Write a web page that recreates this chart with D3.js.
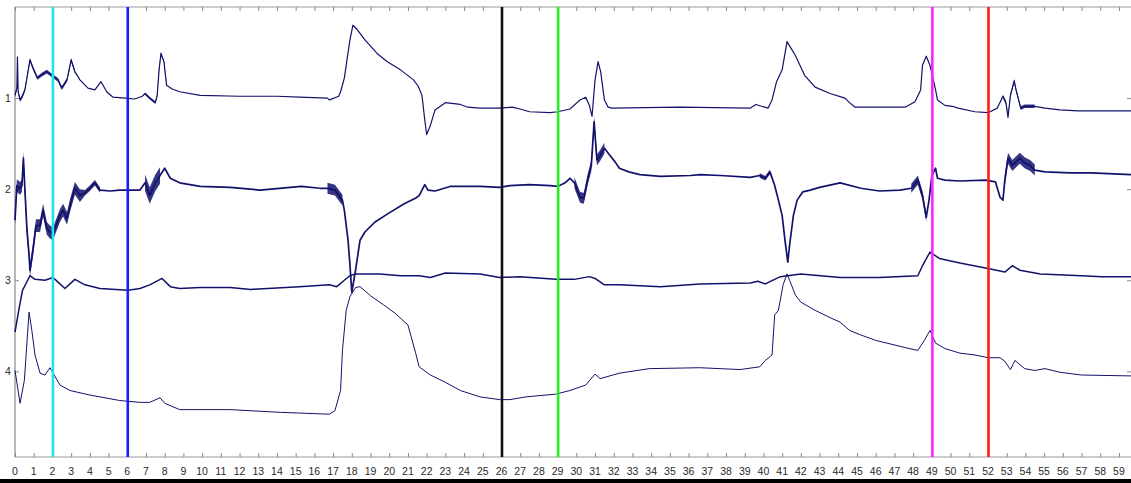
<!doctype html>
<html lang="en">
<head>
<meta charset="utf-8">
<title>Four channel recording</title>
<script src="https://d3js.org/d3.v7.min.js"></script>
<style>
  body { margin: 0; background: #fff; }
  text { font-family: "Liberation Sans", Arial, sans-serif; }
</style>
</head>
<body>
<div id="chart"></div>
<script>
// channel 1
var time1 = [0,0.1,0.13,0.17,0.27,0.37,0.53,0.8,0.96,1.2,1.45,1.7,2.03,2.3,2.5,2.78,3.0,3.2,3.47,3.9,4.27,4.6,4.9,5.24,5.9,6.4,6.8,6.95,7.2,7.5,7.6,7.7,7.8,7.96,8.1,8.4,8.8,9.9,12,14,15.2,16.7,16.8,17.3,17.4,17.6,17.9,18.06,18.3,18.7,19.35,19.9,20.6,21.3,21.55,21.75,21.9,22.0,22.2,22.45,23.0,23.8,24.2,24.85,25.9,26.56,27.0,27.5,28.6,29.0,29.66,30.2,30.5,30.7,30.84,31.0,31.16,31.3,31.5,31.7,31.9,35.5,39.3,39.6,39.9,40.25,40.46,40.7,41.0,41.26,41.7,42.2,42.76,43.56,44.36,44.6,44.9,46.2,47.57,48.1,48.4,48.5,48.7,48.9,49.2,49.3,49.7,50.1,50.4,51.3,52.0,52.5,52.8,52.96,53.07,53.2,53.4,53.5,53.75,53.96,54.5,55.05,55.85,56.8,59.7];
var ch1 = [0.97,0.89,0.55,0.93,1.02,0.99,0.91,0.58,0.67,0.78,0.74,0.71,0.76,0.80,0.89,0.80,0.58,0.71,0.80,0.89,0.91,0.82,0.93,0.99,1.0,1.01,0.98,0.95,1.0,1.05,0.97,0.69,0.51,0.60,0.86,0.90,0.93,0.97,0.98,0.98,0.99,1.0,1.02,0.98,0.93,0.78,0.36,0.20,0.25,0.36,0.51,0.60,0.69,0.80,0.87,0.97,1.24,1.40,1.30,1.13,1.05,1.07,1.10,1.11,1.11,1.10,1.12,1.15,1.16,1.15,1.12,1.02,0.99,1.08,1.20,0.80,0.60,0.71,1.02,1.10,1.11,1.10,1.11,1.07,1.09,1.11,1.02,0.82,0.69,0.38,0.53,0.75,0.88,0.95,1.0,1.05,1.10,1.10,1.10,1.04,0.91,0.64,0.54,0.64,0.91,1.02,1.08,1.09,1.11,1.15,1.16,1.11,0.98,1.05,1.21,0.97,0.81,0.91,1.11,1.09,1.09,1.11,1.13,1.14,1.14];

// channel 2
var time2 = [0,0.1,0.27,0.37,0.45,0.53,0.64,0.75,0.8,0.96,1.12,1.34,1.5,1.7,1.87,2.03,2.14,2.4,2.57,2.78,2.94,3.2,3.47,3.74,4.0,4.27,4.54,5.08,5.6,6.04,6.68,6.95,7.2,7.5,7.75,8.0,8.3,8.8,9.9,11.5,13.1,15.3,16.3,16.7,17.1,17.5,17.6,17.8,17.9,18.0,18.2,18.44,18.7,19.24,20.0,20.8,21.4,21.6,21.9,22.07,22.45,23.25,24.85,25.9,26.45,27.5,28.6,29.0,29.4,29.66,29.9,30.2,30.4,30.6,30.8,30.95,31.1,31.27,31.5,31.8,32.07,32.3,32.8,33.4,34.5,36.1,36.6,37.7,39.3,39.8,40.1,40.35,40.6,40.8,41.0,41.15,41.3,41.4,41.6,41.8,42.1,42.5,43.0,44.1,45.2,46.2,47.3,47.9,48.25,48.5,48.7,48.85,49.0,49.2,49.3,49.7,50.5,51.85,52.4,52.65,52.8,52.9,53.07,53.3,53.7,53.96,54.25,54.5,55.05,56.4,57.5,59.7];
var ch2 = [2.34,1.96,1.99,1.96,1.66,2.01,2.45,2.72,2.89,2.67,2.40,2.40,2.23,2.43,2.47,2.49,2.43,2.29,2.23,2.32,2.18,1.99,2.07,2.04,1.99,1.93,2.01,2.02,2.01,2.01,2.01,1.93,2.07,1.93,1.85,1.77,1.88,1.93,1.97,1.98,2.01,1.97,1.99,1.99,2.01,2.12,2.23,2.56,2.83,3.13,2.89,2.56,2.47,2.36,2.26,2.16,2.10,2.07,1.95,2.01,2.02,1.97,1.97,1.98,1.96,1.95,1.96,1.97,1.93,1.88,1.93,2.09,2.10,1.90,1.74,1.26,1.68,1.63,1.55,1.63,1.70,1.77,1.81,1.84,1.86,1.85,1.84,1.85,1.87,1.85,1.88,1.81,1.96,2.12,2.29,2.56,2.80,2.61,2.29,2.12,2.03,2.01,1.98,1.93,1.99,2.02,2.01,1.99,1.90,2.07,2.31,2.12,1.85,1.77,1.88,1.90,1.91,1.90,1.92,2.09,2.12,1.90,1.66,1.74,1.66,1.71,1.74,1.79,1.81,1.82,1.82,1.84];

// channel 3
var time3 = [0,0.2,0.4,0.8,1.07,1.6,2.03,2.3,2.67,3.2,3.74,4.54,6.04,6.68,7.2,7.86,8.3,8.8,9.9,11.5,12.6,15.2,16.8,17.2,17.6,17.9,18.2,19.5,20.6,21.6,22.2,23.0,24.85,25.9,27.0,28.9,29.9,30.7,31.0,31.5,32.3,34.5,36.6,39.3,39.7,40.1,40.9,42.0,44.1,46.2,48.25,48.5,48.9,49.4,50.5,52.0,52.9,53.3,53.7,54.8,57.0,58.1,59.7];
var ch3 = [3.57,3.33,3.11,2.95,2.99,3.0,2.97,3.02,3.09,2.99,3.05,3.09,3.11,3.09,3.05,2.98,3.07,3.09,3.08,3.08,3.10,3.07,3.05,3.07,3.0,2.95,2.93,2.93,2.95,2.95,2.97,2.92,2.93,2.97,2.96,2.99,2.99,2.96,2.98,3.05,3.05,3.07,3.04,3.03,3.01,3.04,2.96,2.93,2.97,2.97,2.95,2.84,2.69,2.76,2.81,2.87,2.91,2.84,2.89,2.93,2.95,2.96,2.96];

// channel 4
var time4 = [0,0.27,0.5,0.75,0.9,1.07,1.34,1.6,1.87,2.4,2.94,4.0,5.6,6.68,7.2,7.75,8.0,8.8,11.5,14.2,16.8,17.1,17.4,17.5,17.7,17.9,18.2,18.44,19.0,19.7,20.3,21.0,21.4,21.6,22.2,23.0,23.8,24.85,25.9,26.45,27.3,28.9,29.66,30.5,31.0,31.27,32.3,33.9,36.6,38.75,39.8,40.1,40.46,40.6,40.8,41.05,41.26,41.4,41.7,42.0,42.76,43.56,44.1,44.6,45.2,46.0,46.8,47.6,48.25,48.6,48.9,49.2,49.7,50.5,51.3,52.0,52.65,52.9,53.2,53.44,53.96,54.5,55.05,55.85,57.0,59.7];
var ch4 = [3.99,4.35,4.10,3.35,3.55,3.82,4.02,4.04,3.96,4.15,4.21,4.26,4.32,4.34,4.34,4.29,4.35,4.42,4.42,4.45,4.47,4.43,4.21,3.77,3.33,3.18,3.08,3.07,3.17,3.27,3.36,3.49,3.79,3.95,4.04,4.12,4.21,4.28,4.31,4.31,4.28,4.25,4.21,4.15,4.03,4.08,4.02,3.97,3.96,3.98,3.95,3.88,3.82,3.38,3.33,3.05,2.93,3.0,3.16,3.24,3.33,3.41,3.46,3.55,3.60,3.66,3.70,3.74,3.77,3.66,3.55,3.69,3.75,3.80,3.82,3.85,3.85,3.89,3.98,3.88,3.97,3.99,3.97,4.01,4.04,4.05];

// noisy stretches: [from, to, half-width of the band]
var noise1 = [[0, 3.3, 0.02], [6.9, 8.2, 0.015], [52.7, 54.6, 0.02]];
var noise2 = [[0, 3.6, 0.07], [3.6, 5.0, 0.03], [6.8, 7.9, 0.09], [16.7, 17.5, 0.06], [29.9, 31.6, 0.06], [39.6, 40.4, 0.025], [47.8, 48.8, 0.05], [52.9, 54.7, 0.06]];
var noise3 = [[21.3, 21.9, 0.04], [43.5, 44.5, 0.012], [53.0, 53.6, 0.015]];
var noise4 = [[3.5, 4.5, 0.015]];

var markers = [2, 6, 26, 29, 49, 52];
var markerColors = ["#19e6f0", "#1a1aff", "#111111", "#22ee22", "#ff22ff", "#ff1a1a"];

var xTicks = d3.range(0, 60);
var yTicks = [1, 2, 3, 4];

var width = 1131, height = 483;
var plotLeft = 15, plotRight = 1131.5, plotTop = 7, plotBottom = 457;

var x = d3.scaleLinear().domain([0, 59.67]).range([plotLeft, plotRight]);
var y = d3.scaleLinear().domain([0, 4.94]).range([plotTop, plotBottom]);

var svg = d3.select('#chart')
  .append('svg')
  .attr('width', width)
  .attr('height', height);

// frame and ticks
var axisColor = '#9a9a9a';
svg.append('line').attr('x1', plotLeft).attr('x2', plotRight).attr('y1', plotTop).attr('y2', plotTop)
  .attr('stroke', axisColor).attr('stroke-width', 1.2);
svg.append('line').attr('x1', plotLeft).attr('x2', plotRight).attr('y1', plotBottom).attr('y2', plotBottom)
  .attr('stroke', axisColor).attr('stroke-width', 1.2);
svg.append('line').attr('x1', plotLeft).attr('x2', plotLeft).attr('y1', plotTop).attr('y2', plotBottom)
  .attr('stroke', axisColor).attr('stroke-width', 1.4);

var xAxisTop = d3.axisBottom(x).tickValues(xTicks).tickSize(4).tickFormat('');
var xAxisBottom = d3.axisTop(x).tickValues(xTicks).tickSize(4).tickFormat('');
var yAxisLeft = d3.axisRight(y).tickValues(yTicks).tickSize(4).tickFormat('');
var yAxisRight = d3.axisLeft(y).tickValues(yTicks).tickSize(4).tickFormat('');

function styleAxis(g) {
  g.select('.domain').remove();
  g.selectAll('.tick line').attr('stroke', '#8a8a8a');
}
svg.append('g').attr('transform', 'translate(0,' + plotTop + ')').call(xAxisTop).call(styleAxis);
svg.append('g').attr('transform', 'translate(0,' + plotBottom + ')').call(xAxisBottom).call(styleAxis);
svg.append('g').attr('transform', 'translate(' + plotLeft + ',0)').call(yAxisLeft).call(styleAxis);
svg.append('g').attr('transform', 'translate(' + (plotRight - 0.5) + ',0)').call(yAxisRight).call(styleAxis);

// tick labels
svg.selectAll('.xlabel')
  .data(xTicks)
  .enter()
  .append('text')
  .attr('class', 'xlabel')
  .attr('x', function(d) { return x(d); })
  .attr('y', 475)
  .attr('text-anchor', 'middle')
  .style('font-size', '10.5px')
  .style('fill', '#2a2a2a')
  .text(function(d) { return d; });

svg.selectAll('.ylabel')
  .data(yTicks)
  .enter()
  .append('text')
  .attr('class', 'ylabel')
  .attr('x', 8)
  .attr('y', function(d) { return y(d) + 4; })
  .attr('text-anchor', 'middle')
  .style('font-size', '10.5px')
  .style('fill', '#2a2a2a')
  .text(function(d) { return d; });

// traces
var traceColor = '#12126c';
var channels = [
  {t: time1, v: ch1, noise: noise1, w: 1.2},
  {t: time2, v: ch2, noise: noise2, w: 1.7},
  {t: time3, v: ch3, noise: noise3, w: 1.5},
  {t: time4, v: ch4, noise: noise4, w: 1.0}
];

function bandAt(noise, t) {
  for (var i = 0; i < noise.length; i++) {
    if (t >= noise[i][0] && t <= noise[i][1]) return noise[i][2];
  }
  return 0;
}

var line = d3.line()
  .x(function(d) { return x(d.t); })
  .y(function(d) { return y(d.v); });

var area = d3.area()
  .defined(function(d) { return d.a > 0; })
  .x(function(d) { return x(d.t); })
  .y0(function(d) { return y(d.v - d.a); })
  .y1(function(d) { return y(d.v + d.a); });

channels.forEach(function(c) {
  var pts = c.t.map(function(t, i) {
    return {t: t, v: c.v[i], a: bandAt(c.noise, t)};
  });
  svg.append('path')
    .datum(pts)
    .attr('d', area)
    .attr('fill', traceColor)
    .attr('fill-opacity', 0.85);
  svg.append('path')
    .datum(pts)
    .attr('d', line)
    .attr('fill', 'none')
    .attr('stroke', traceColor)
    .attr('stroke-width', c.w)
    .attr('stroke-linejoin', 'round');
});

// event markers
svg.selectAll('.marker')
  .data(markers)
  .enter()
  .append('line')
  .attr('class', 'marker')
  .attr('x1', function(d) { return x(d) + 0.5; })
  .attr('x2', function(d) { return x(d) + 0.5; })
  .attr('y1', plotTop)
  .attr('y2', plotBottom)
  .attr('stroke', function(d, i) { return markerColors[i]; })
  .attr('stroke-width', 2.6);

// bottom rule
svg.append('rect')
  .attr('x', 0).attr('y', 479)
  .attr('width', width).attr('height', 4)
  .attr('fill', '#000');
</script>
</body>
</html>
